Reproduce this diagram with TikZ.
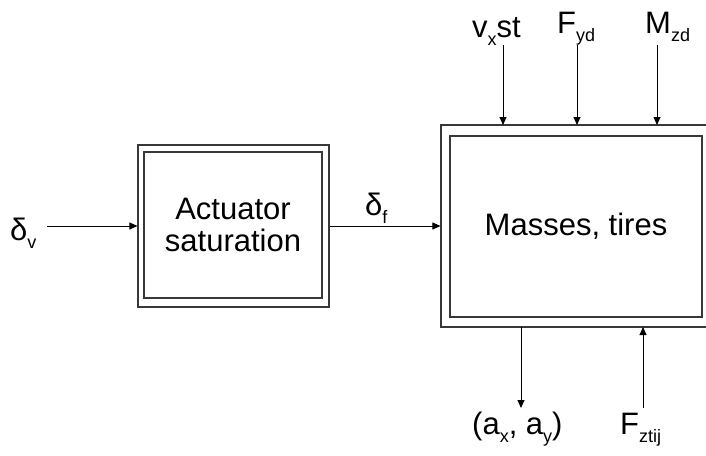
\documentclass[tikz,border=0pt]{standalone}
\usepackage{fontspec}
\setmainfont{Liberation Sans}
\usetikzlibrary{arrows.meta}
\newcommand\sbs[1]{\raisebox{-8pt}{\fontsize{18}{18}\selectfont #1}}
\begin{document}
\begin{tikzpicture}[x=1pt,y=-1pt,
  box/.style={draw=black!78, line width=1.1pt, rectangle, inner sep=0pt},
  lab/.style={inner sep=0pt, font=\fontsize{31}{32}\selectfont},
  sig/.style={-{Triangle[length=8pt,width=7pt]}, line width=0.9pt}]
\useasboundingbox (0,0) rectangle (706,455);
% Actuator block
\node[box, minimum width=191pt, minimum height=162pt] (act) at (233.5,226) {};
\node[box, minimum width=178pt, minimum height=146pt, align=center, lab] (acti) at (233,225) {Actuator\\saturation};
% Masses block
\node[box, minimum width=271pt, minimum height=202pt] (mas) at (576.5,226) {};
\node[box, minimum width=252pt, minimum height=181pt, lab] (masi) at (576,226.5) {Masses, tires};
% labels
\node[lab, anchor=base west] (dv) at (10,240) {δ\sbs{v}};
\node[lab, anchor=base west] (df) at (365,215) {δ\sbs{f}};
\node[lab, anchor=base west] (vx) at (472,37) {v\sbs{x}st};
\node[lab, anchor=base west] (fy) at (557,33) {F\sbs{yd}};
\node[lab, anchor=base west] (mz) at (645,33) {M\sbs{zd}};
\node[lab, anchor=base west] (ax) at (472,434) {(a\sbs{x}, a\sbs{y})};
\node[lab, anchor=base west] (fz) at (620,434) {F\sbs{ztij}};
% coordinates
\coordinate (dvs) at (47,226);
\coordinate (vxs) at (503,45);  \coordinate (vxe) at (503,125);
\coordinate (fys) at (577,45);  \coordinate (fye) at (577,125);
\coordinate (mzs) at (657,45);  \coordinate (mze) at (657,125);
\coordinate (axs) at (521,327); \coordinate (axe) at (521,408);
\coordinate (fzs) at (643,408); \coordinate (fze) at (643,327);
% connectors
\draw[sig] (dvs) -- (act.west);
\draw[sig] (act.east) -- (mas.west);
\draw[sig] (vxs) -- (vxe);
\draw[sig] (fys) -- (fye);
\draw[sig] (mzs) -- (mze);
\draw[sig] (axs) -- (axe);
\draw[sig] (fzs) -- (fze);
\end{tikzpicture}
\end{document}
